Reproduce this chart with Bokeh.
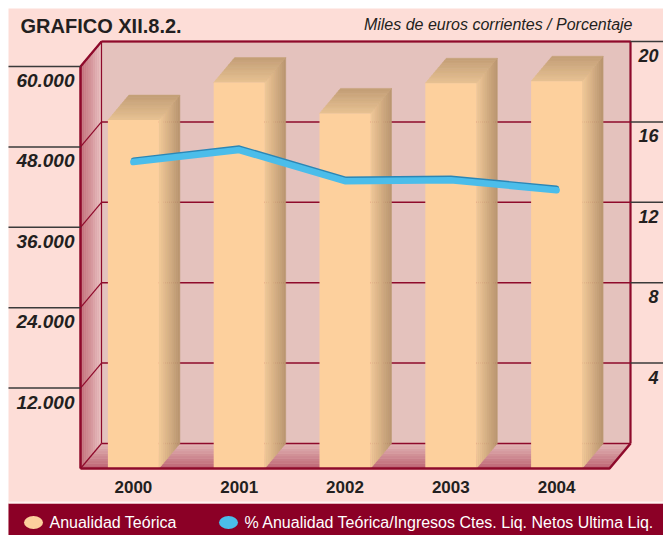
from bokeh.plotting import figure
from bokeh.models import Range1d, Label
from bokeh.core.properties import value
from bokeh.embed import file_html
from bokeh.resources import INLINE

# ---------------- data ----------------
years = ["2000", "2001", "2002", "2003", "2004"]
anualidad = [52000, 57600, 53000, 57500, 57800]          # miles de euros (left axis)
porcentaje = [14.0, 14.6, 13.05, 13.1, 12.6]              # % (right axis)
left_ticks = [12000, 24000, 36000, 48000, 60000]
left_labels = ["12.000", "24.000", "36.000", "48.000", "60.000"]
right_ticks = [4, 8, 12, 16, 20]
right_labels = ["4", "8", "12", "16", "20"]
left_max = 60000
right_max = 20

# ---------------- layout / style ----------------
W, H = 663, 535
CAT_PX = 105.8            # px per category
FRONT_LEFT = 80           # px from canvas left to front plane x=0
FRONT_BOTTOM = 67         # px from canvas bottom to y=0
PLOT_PX = 402             # px for left_max
U = left_max / PLOT_PX    # data units per px (y)
DX = 21.0 / CAT_PX        # depth offsets
DY = 25.0 * U
BW = 51.0 / CAT_PX        # bar width
N = len(years)
SCALE_R = left_max / right_max

BG = "#FDDDD7"
WALL = "#E4C2BD"
MAROON = "#8E0A2B"
BAR = "#FDD09D"
TXT = "#231F20"

XL = -FRONT_LEFT / CAT_PX
XR = (W - FRONT_LEFT) / CAT_PX
YB = -FRONT_BOTTOM * U
YT = (H - FRONT_BOTTOM) * U

p = figure(width=W, height=H, output_backend="svg", toolbar_location=None,
           x_range=Range1d(XL, XR), y_range=Range1d(YB, YT),
           min_border=0, x_axis_type=None, y_axis_type=None)
p.grid.visible = False
p.outline_line_color = None
p.background_fill_color = "white"
p.border_fill_color = "white"

# pink panel
p.quad(left=XL + 8 / CAT_PX, right=XR, bottom=YB, top=YT - 8 * U, fill_color=BG, line_color=None)


def hex2rgb(h):
    h = h.lstrip("#")
    return [int(h[i:i + 2], 16) for i in (0, 2, 4)]


def mix(c1, c2, t):
    a, b = hex2rgb(c1), hex2rgb(c2)
    return "#%02x%02x%02x" % tuple(int(round(a[i] + (b[i] - a[i]) * t)) for i in range(3))


NS = 10
# back wall
p.quad(left=DX, right=N + DX, bottom=DY, top=left_max + DY, fill_color=WALL, line_color=None)

# left wall (gradient)
xs, ys, cs = [], [], []
for k in range(NS):
    t0, t1 = k / NS, (k + 1) / NS
    xs.append([t0 * DX, t1 * DX, t1 * DX, t0 * DX])
    ys.append([t0 * DY, t1 * DY, left_max + t1 * DY, left_max + t0 * DY])
    cs.append(mix("#C06A76", "#E8C0C0", (k + 0.5) / NS))
p.patches(xs, ys, fill_color=cs, line_color=cs, line_width=0.5)

# floor (gradient)
xs, ys, cs = [], [], []
for k in range(NS):
    t0, t1 = k / NS, (k + 1) / NS
    xs.append([t0 * DX, N + t0 * DX, N + t1 * DX, t1 * DX])
    ys.append([t0 * DY, t0 * DY, t1 * DY, t1 * DY])
    cs.append(mix("#BC6372", "#E2B6B6", (k + 0.5) / NS))
p.patches(xs, ys, fill_color=cs, line_color=cs, line_width=0.5)

# grid lines on back wall and left wall
for t in [0] + left_ticks:
    p.line([DX, N + DX], [t + DY, t + DY], line_color=MAROON, line_width=1.5)
    p.line([0, DX], [t, t + DY], line_color=MAROON, line_width=1.2)

# box borders
p.line([DX, N + DX, N + DX], [left_max + DY, left_max + DY, DY], line_color=MAROON, line_width=2.2)
p.line([DX, DX], [DY, left_max + DY], line_color=MAROON, line_width=1.2)
p.line([0, 0], [0, left_max], line_color=MAROON, line_width=2.5)
p.line([0, DX], [left_max, left_max + DY], line_color=MAROON, line_width=2.2)

# bars
for i, v in enumerate(anualidad):
    x0 = i + 0.5 - BW / 2
    x1 = i + 0.5 + BW / 2
    # side face
    xs, ys, cs = [], [], []
    for k in range(NS):
        t0, t1 = k / NS, (k + 1) / NS
        xs.append([x1 + t0 * DX, x1 + t1 * DX, x1 + t1 * DX, x1 + t0 * DX])
        ys.append([t0 * DY, t1 * DY, v + t1 * DY, v + t0 * DY])
        cs.append(mix("#F2CA98", "#B8946E", (k + 0.5) / NS))
    p.patches(xs, ys, fill_color=cs, line_color=cs, line_width=0.5)
    # top face
    xs, ys, cs = [], [], []
    for k in range(NS):
        t0, t1 = k / NS, (k + 1) / NS
        xs.append([x0 + t0 * DX, x1 + t0 * DX, x1 + t1 * DX, x0 + t1 * DX])
        ys.append([v + t0 * DY, v + t0 * DY, v + t1 * DY, v + t1 * DY])
        cs.append(mix("#E8C292", "#C29E76", (k + 0.5) / NS))
    p.patches(xs, ys, fill_color=cs, line_color=cs, line_width=0.5)
    # front face
    p.quad(left=x0, right=x1, bottom=0, top=v, fill_color=BAR, line_color=None)

# front bottom borders (drawn over bars' bottoms)
p.line([0, N, N + DX], [0, 0, DY], line_color=MAROON, line_width=2.5)

# line series (3D ribbon look)
cx = [i + 0.5 for i in range(N)]
ly = [v * SCALE_R + DY for v in porcentaje]
p.line(cx, [y + 2.2 * U for y in ly], line_color="#2B86B5", line_width=5, line_cap="round", line_join="round")
p.line(cx, ly, line_color="#4BBDEA", line_width=6.5, line_cap="round", line_join="round")

# left axis ticks and labels
for t in left_ticks:
    p.line([XL + 8 / CAT_PX, 0], [t, t], line_color="#3A3A3A", line_width=1.5)
p.text(x=[-6 / CAT_PX] * len(left_ticks), y=[t - 14 * U for t in left_ticks], text=left_labels,
       text_align="right", text_baseline="middle", text_font=value("Liberation Sans"),
       text_font_size="19px", text_font_style="bold italic", text_color=TXT)

# right axis ticks and labels
for t in right_ticks:
    y = t * SCALE_R + DY
    p.line([N + DX, XR], [y, y], line_color="#3A3A3A", line_width=1.5)
p.text(x=[N + DX + 28 / CAT_PX] * len(right_ticks), y=[t * SCALE_R + DY - 14 * U for t in right_ticks],
       text=right_labels, text_align="right", text_baseline="middle", text_font=value("Liberation Sans"),
       text_font_size="18px", text_font_style="bold italic", text_color=TXT)

# category labels
p.text(x=cx, y=[-18 * U] * N, text=years, text_align="center", text_baseline="middle",
       text_font=value("Liberation Sans"), text_font_size="17px", text_font_style="bold", text_color=TXT)

# legend band
p.quad(left=XL + 8 / CAT_PX, right=XR, bottom=YB, top=-35 * U, fill_color="#8B0026", line_color=None)
p.quad(left=XL + 8 / CAT_PX, right=XR, bottom=-35 * U, top=-33 * U, fill_color="#FFF4F2", line_color=None)
p.ellipse(x=[(33 - FRONT_LEFT) / CAT_PX, (228 - FRONT_LEFT) / CAT_PX], y=[-54 * U, -54 * U],
          width=19 / CAT_PX, height=13 * U, fill_color=["#FDD09D", "#4BBDEA"], line_color=None)
p.add_layout(Label(x=49, y=H - 522, x_units="screen", y_units="screen", text="Anualidad Teórica",
                   text_baseline="middle", text_font="Liberation Sans", text_font_size="16px",
                   text_color="white"))
p.add_layout(Label(x=244, y=H - 522, x_units="screen", y_units="screen",
                   text="% Anualidad Teórica/Ingresos Ctes. Liq. Netos Ultima Liq.",
                   text_baseline="middle", text_font="Liberation Sans", text_font_size="16px",
                   text_color="white"))

# titles
p.add_layout(Label(x=20, y=H - 25, x_units="screen", y_units="screen", text="GRAFICO XII.8.2.",
                   text_baseline="middle", text_font="Liberation Sans", text_font_size="20px",
                   text_font_style="bold", text_color=TXT))
p.add_layout(Label(x=632, y=H - 24, x_units="screen", y_units="screen",
                   text="Miles de euros corrientes / Porcentaje", text_align="right",
                   text_baseline="middle", text_font="Liberation Sans", text_font_size="16px",
                   text_font_style="italic", text_color=TXT))

open("out.html", "w").write(file_html(p, INLINE))
